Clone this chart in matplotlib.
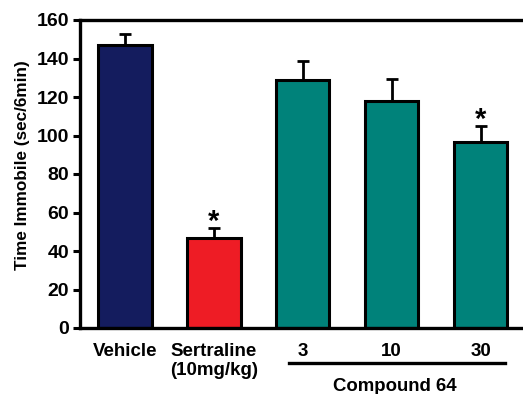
import matplotlib
matplotlib.use("Agg")
import matplotlib.pyplot as plt
import numpy as np

plt.rcParams['font.family'] = ['Liberation Sans', 'DejaVu Sans']
plt.rcParams['font.weight'] = 'bold'

categories = ["Vehicle", "Sertraline\n(10mg/kg)", "3", "10", "30"]
values = [147, 47, 129, 118, 96.5]
errors = [5.5, 5, 9.5, 11.5, 8.5]
colors = ["#141c5e", "#ee1c25", "#00827a", "#00827a", "#00827a"]
significant = [False, True, False, False, True]
group_label = "Compound 64"
ylabel = "Time Immobile (sec/6min)"
yticks = [0, 20, 40, 60, 80, 100, 120, 140, 160]

fig = plt.figure(figsize=(5.23, 3.94), dpi=100)
W, H = 523, 394
left, right, top, bottom = 80, 534, 20, 328
ax = fig.add_axes([left / W, 1 - bottom / H, (right - left) / W, (bottom - top) / H])

x = np.arange(len(categories))
ax.bar(x, values, width=0.6, color=colors, edgecolor="black", linewidth=2.2, zorder=2)
ax.errorbar(x, values, yerr=[np.zeros(len(values)), errors], fmt="none",
            ecolor="black", elinewidth=2, capsize=4, capthick=2, zorder=1)

for xi, v, e, s in zip(x, values, errors, significant):
    if s:
        ax.text(xi, v + e - 1, "*", ha="center", va="baseline", fontsize=21, fontweight="bold")

ax.set_xlim(-0.506, 4.6)
ax.set_ylim(0, 160)
ax.set_yticks(yticks)
ax.set_yticklabels([str(t) for t in yticks], fontsize=14, fontweight="bold")
ax.set_xticks(x)
ax.set_xticklabels(categories, fontsize=13.5, fontweight="bold", linespacing=1.15)
ax.tick_params(axis="x", length=0, pad=11)
ax.tick_params(axis="y", length=5, width=2.2, direction="out", pad=3)
for sp in ["left", "bottom", "top", "right"]:
    ax.spines[sp].set_linewidth(2.4)
ax.set_ylabel(ylabel, fontsize=12.3, fontweight="bold", va="center")
ax.yaxis.set_label_coords(-0.126, 0.53)

# group line and label
trans = ax.get_xaxis_transform()
ax.plot([1.84, 4.27], [-0.113, -0.113], transform=trans, color="black", lw=2.4, clip_on=False)
ax.text(3.03, -0.19, group_label, transform=trans, ha="center", va="center",
        fontsize=13.4, fontweight="bold")

fig.savefig("out.png", dpi=100)
